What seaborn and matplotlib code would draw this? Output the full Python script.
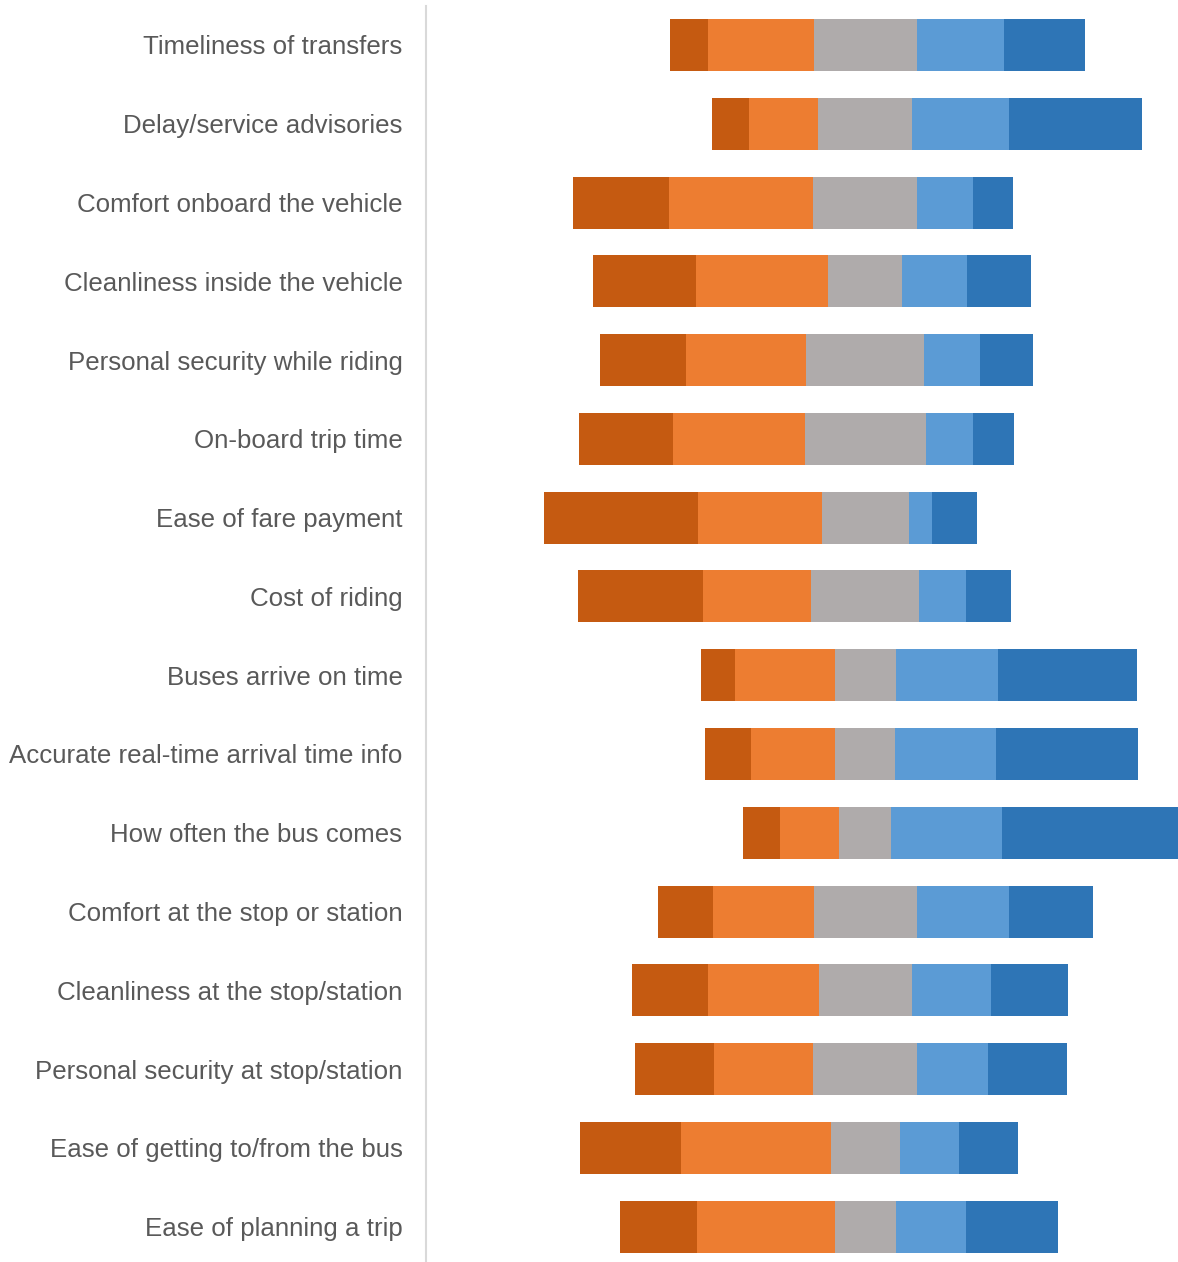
import numpy as np
import pandas as pd
import matplotlib
matplotlib.use("Agg")
import matplotlib.pyplot as plt
import seaborn as sns

# Survey items, top to bottom
categories = [
    "Timeliness of transfers",
    "Delay/service advisories",
    "Comfort onboard the vehicle",
    "Cleanliness inside the vehicle",
    "Personal security while riding",
    "On-board trip time",
    "Ease of fare payment",
    "Cost of riding",
    "Buses arrive on time",
    "Accurate real-time arrival time info",
    "How often the bus comes",
    "Comfort at the stop or station",
    "Cleanliness at the stop/station",
    "Personal security at stop/station",
    "Ease of getting to/from the bus",
    "Ease of planning a trip",
]

# Share of responses (%) per rating level
very_dissatisfied = [8.7, 8.5, 22.0, 23.6, 19.7, 21.6, 35.4, 28.9, 7.9, 10.7, 8.5, 12.7, 17.5, 18.2, 23.3, 17.8]
dissatisfied      = [24.4, 16.0, 33.1, 30.5, 27.7, 30.3, 28.5, 24.8, 22.9, 19.3, 13.7, 23.0, 25.4, 22.9, 34.4, 31.6]
neutral           = [23.7, 21.6, 24.0, 17.0, 27.1, 27.8, 20.0, 24.8, 14.0, 13.8, 12.0, 23.8, 21.4, 23.9, 15.9, 14.1]
satisfied         = [20.0, 22.3, 12.7, 15.0, 12.9, 10.9, 5.4, 10.7, 23.5, 23.1, 25.5, 21.1, 18.1, 16.2, 13.7, 16.0]
very_satisfied    = [18.6, 30.6, 9.2, 14.5, 12.2, 9.4, 10.3, 10.4, 32.0, 32.7, 40.5, 19.3, 17.8, 18.3, 13.5, 21.3]

level_colors = ["#C55A11", "#ED7D31", "#AFABAB", "#5B9BD5", "#2E75B6"]

series = [np.array(s, dtype=float) for s in
          (very_dissatisfied, dissatisfied, neutral, satisfied, very_satisfied)]

# Diverging layout: neutral block centred on zero
start = -(series[0] + series[1] + series[2] / 2.0)

sns.set_theme(style="white")
plt.rcParams["font.family"] = ["Liberation Sans", "DejaVu Sans"]

fig = plt.figure(figsize=(11.78, 12.62), dpi=100)
ax = fig.add_axes([426 / 1178, -0.0032, 1 - 426 / 1178, 0.9988])

left = start.copy()
for vals, col in zip(series, level_colors):
    df = pd.DataFrame({"item": categories, "pct": vals})
    sns.barplot(data=df, x="pct", y="item", order=categories, orient="y",
                color=col, width=0.66, left=left, linewidth=0,
                saturation=1, ax=ax)
    left = left + vals

ax.set_xlim(-101.0, 71.9)
ax.set_ylim(len(categories) - 0.5, -0.5)
ax.set_xlabel("")
ax.set_ylabel("")
ax.set_xticks([])
ax.tick_params(axis="y", length=0, pad=17, labelsize=18.6, labelcolor="#595959")
for side in ("top", "right", "bottom"):
    ax.spines[side].set_visible(False)
ax.spines["left"].set_color("#D9D9D9")
ax.spines["left"].set_linewidth(1.5)

fig.savefig("out.png", dpi=100)
